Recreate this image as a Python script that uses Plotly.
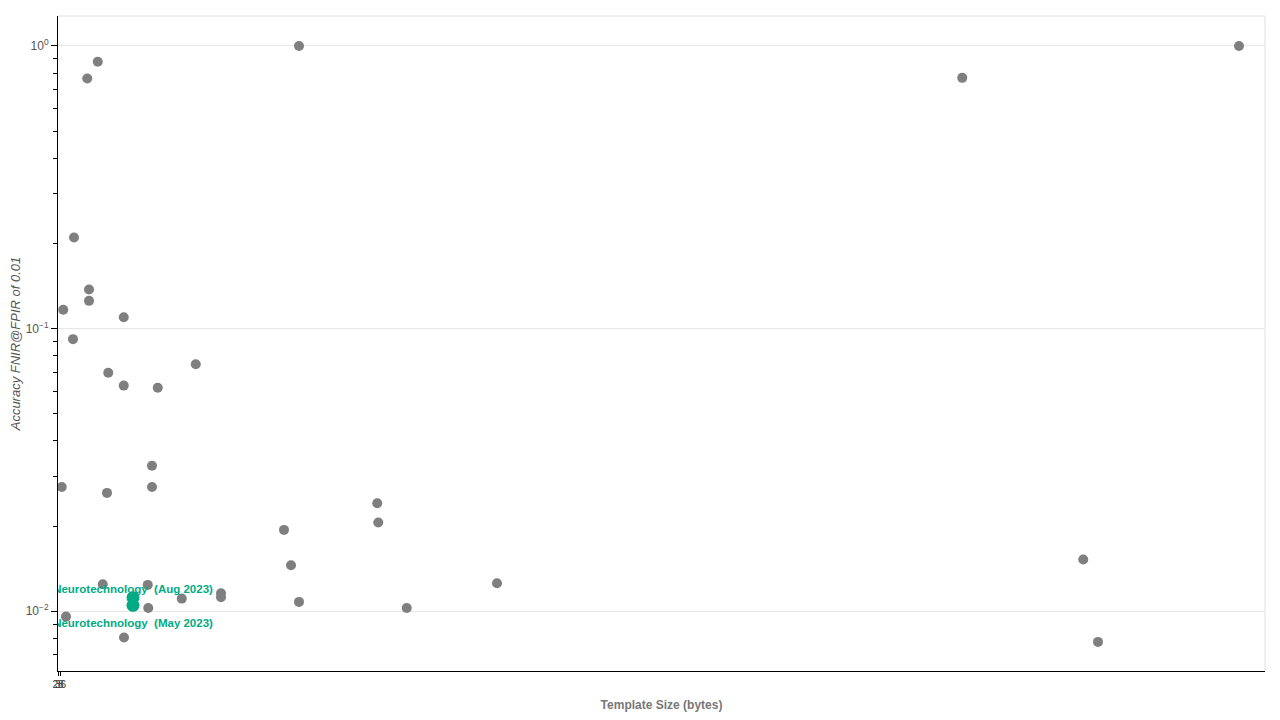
import plotly.graph_objects as go

# Template size (bytes) and accuracy (FNIR @ FPIR 0.01) of the other algorithms
other_size = [15, 21, 32, 64, 60, 117, 124, 124, 159, 179, 196, 201, 263, 263, 264,
              359, 361, 376, 376, 399, 495, 551, 652, 652, 904, 932, 964, 964,
              1277, 1281, 1395, 1756, 3617, 4101, 4160, 4724]
other_fnir = [0.0275, 0.1165, 0.00956, 0.210, 0.0917, 0.767, 0.1374, 0.1253, 0.879,
              0.01244, 0.0262, 0.0697, 0.1096, 0.0628, 0.00806,
              0.01238, 0.01026, 0.0327, 0.0275, 0.0617, 0.01107, 0.0747, 0.01156, 0.01119,
              0.01938, 0.01452, 1.0, 0.01078,
              0.02407, 0.02057, 0.01026, 0.01254, 0.771, 0.01522, 0.00778, 1.0]

# Highlighted algorithm
hl_names = ["Neurotechnology  (Aug 2023)", "Neurotechnology  (May 2023)"]
hl_size = [300, 300]
hl_fnir = [0.01116, 0.01048]

x_tickvals = [0, 10]
x_ticktext = ["28", "36"]

y_tickvals = [0.01, 0.1, 1]
y_ticktext = ["10<sup>\u22122</sup>", "10<sup>\u22121</sup>", "10<sup>0</sup>"]
y_minorvals = [m * d for d in (0.001, 0.01, 0.1, 1) for m in range(2, 10)]

GREEN = "#00ab84"
GRAY = "#7f7f7f"

fig = go.Figure()
fig.add_trace(go.Scatter(
    x=other_size, y=other_fnir, mode="markers",
    marker=dict(size=10, color=GRAY, line=dict(width=0)),
    showlegend=False, cliponaxis=True,
))
fig.add_trace(go.Scatter(
    x=hl_size, y=hl_fnir, mode="markers",
    marker=dict(size=13, color=GREEN, line=dict(width=0)),
    showlegend=False, cliponaxis=True,
))
# labels (transparent helper markers control the label offset)
fig.add_trace(go.Scatter(
    x=hl_size[:1], y=hl_fnir[:1], mode="markers+text",
    text=["<b>" + hl_names[0] + "</b>"], textposition="top center",
    textfont=dict(color=GREEN, size=11.5),
    marker=dict(size=1, color="rgba(0,0,0,0)"),
    showlegend=False, cliponaxis=True, hoverinfo="skip",
))
fig.add_trace(go.Scatter(
    x=hl_size[1:], y=hl_fnir[1:], mode="markers+text",
    text=["<b>" + hl_names[1] + "</b>"], textposition="bottom center",
    textfont=dict(color=GREEN, size=11.5),
    marker=dict(size=19, color="rgba(0,0,0,0)"),
    showlegend=False, cliponaxis=True, hoverinfo="skip",
))

fig.update_layout(
    width=1265, height=706,
    margin=dict(l=50, r=8, t=8, b=43, autoexpand=False),
    paper_bgcolor="white", plot_bgcolor="white",
    font=dict(family="Liberation Sans, Arial, sans-serif", color="#444"),
    xaxis=dict(
        range=[0, 4828], showgrid=False, zeroline=False, automargin=False,
        showline=True, linecolor="black", linewidth=1,
        tickmode="array", tickvals=x_tickvals, ticktext=x_ticktext, tickangle=0,
        ticks="outside", ticklen=4, tickcolor="black",
        tickfont=dict(size=10, color="#333"),
        title=dict(text="<b>Template Size (bytes)</b>",
                   font=dict(size=12, color="#777"), standoff=11),
    ),
    yaxis=dict(
        type="log", range=[-2.212, 0.106], automargin=False,
        tickmode="array", tickvals=y_tickvals, ticktext=y_ticktext,
        showgrid=True, gridcolor="#e6e6e6", gridwidth=1, zeroline=False,
        showline=True, linecolor="black", linewidth=1,
        ticks="outside", ticklen=6, tickcolor="black",
        tickfont=dict(size=12, color="#555"),
        minor=dict(tickmode="array", tickvals=y_minorvals, ticks="outside",
                   ticklen=4, tickcolor="black", showgrid=False),
        title=dict(text="<i>Accuracy FNIR@FPIR of 0.01</i>",
                   font=dict(size=13, color="#555"), standoff=12),
    ),
    shapes=[
        dict(type="line", xref="paper", yref="paper", x0=0, x1=1, y0=1, y1=1,
             line=dict(color="#e0e0e0", width=1), layer="below"),
        dict(type="line", xref="paper", yref="paper", x0=1, x1=1, y0=0, y1=1,
             line=dict(color="#e0e0e0", width=1), layer="below"),
    ],
)

fig.write_html("out.html")
